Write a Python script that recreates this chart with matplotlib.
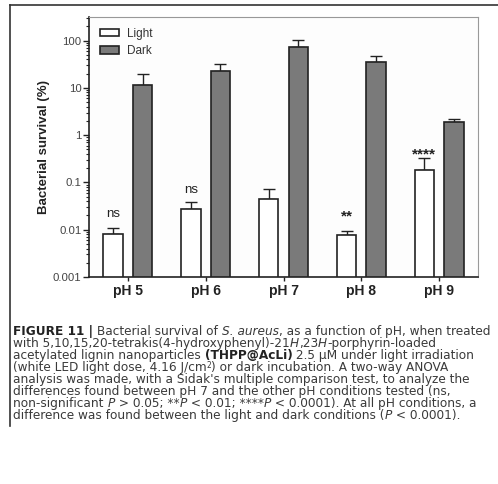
import numpy as np
import matplotlib
matplotlib.use("Agg")
import matplotlib.pyplot as plt
import matplotlib.ticker as mticker

plt.rcParams["font.family"] = ["Liberation Sans", "DejaVu Sans"]

groups = ["pH 5", "pH 6", "pH 7", "pH 8", "pH 9"]
light = [0.0081, 0.027, 0.044, 0.0078, 0.186]
light_err = [0.003, 0.011, 0.028, 0.0016, 0.14]
dark = [11.5, 23.2, 74, 35.4, 1.88]
dark_err = [8.0, 8.5, 29, 12.6, 0.37]
signif = ["ns", "ns", "", "**", "****"]
signif_y = [0.022, 0.070, None, 0.019, 0.40]

# caption lines as (text, style) pieces: "" normal, "b" bold, "i" italic, "sup" superscript
caption = [
    [("FIGURE 11 |", "b"), (" Bacterial survival of ", ""), ("S. aureus", "i"),
     (", as a function of pH, when treated", "")],
    [("with 5,10,15,20-tetrakis(4-hydroxyphenyl)-21", ""), ("H", "i"), (",23", ""), ("H", "i"),
     ("-porphyrin-loaded", "")],
    [("acetylated lignin nanoparticles ", ""), ("(THPP@AcLi)", "b"),
     (" 2.5 μM under light irradiation", "")],
    [("(white LED light dose, 4.16 J/cm", ""), ("2", "sup"), (") or dark incubation. A two-way ANOVA", "")],
    [("analysis was made, with a Sidak's multiple comparison test, to analyze the", "")],
    [("differences found between pH 7 and the other pH conditions tested (ns,", "")],
    [("non-significant ", ""), ("P", "i"), (" > 0.05; **", ""), ("P", "i"), (" < 0.01; ****", ""),
     ("P", "i"), (" < 0.0001). At all pH conditions, a", "")],
    [("difference was found between the light and dark conditions (", ""), ("P", "i"),
     (" < 0.0001).", "")],
]

fig = plt.figure(figsize=(4.98, 4.84), dpi=100)
W, H = 498, 484

# outer frame (top + left rule)
fig.add_artist(plt.Line2D([10 / W, 1.0], [1 - 5 / H, 1 - 5 / H], color="#333333", lw=1.2))
fig.add_artist(plt.Line2D([10 / W, 10 / W], [1 - 5 / H, 1 - 426 / H], color="#333333", lw=1.2))

ax = fig.add_axes([89 / W, 1 - 277 / H, 389 / W, 260 / H])
ax.set_facecolor("#fdfdfd")

x = np.arange(len(groups))
w = 0.25
off = 0.19
ax.bar(x - off, light, w, color="white", edgecolor="#222222", lw=1.2, label="Light", zorder=2)
ax.bar(x + off, dark, w, color="#7a7a7a", edgecolor="#222222", lw=1.2, label="Dark", zorder=2)
ax.errorbar(x - off, light, yerr=[np.zeros(len(light)), light_err], fmt="none",
            ecolor="#222222", elinewidth=1.0, capsize=4, capthick=1.0, zorder=1)
ax.errorbar(x + off, dark, yerr=[np.zeros(len(dark)), dark_err], fmt="none",
            ecolor="#222222", elinewidth=1.0, capsize=4, capthick=1.0, zorder=1)

for i, (s, yy) in enumerate(zip(signif, signif_y)):
    if s:
        fs = 9.5 if s == "ns" else 11
        ax.text(x[i] - off, yy, s, ha="center", va="center", fontsize=fs, color="#222222",
                fontweight="normal" if s == "ns" else "bold")

ax.set_yscale("log")
ax.set_ylim(0.001, 316)
ax.set_xlim(-0.5, 4.5)
ax.yaxis.set_major_locator(mticker.FixedLocator([0.001, 0.01, 0.1, 1, 10, 100]))
ax.set_yticklabels(["0.001", "0.01", "0.1", "1", "10", "100"])
ax.yaxis.set_minor_locator(mticker.LogLocator(base=10, subs=np.arange(2, 10), numticks=20))
ax.yaxis.set_minor_formatter(mticker.NullFormatter())
ax.tick_params(axis="y", which="major", length=4, width=1, labelsize=8.2, pad=1.5,
               color="#222222", labelcolor="#444444")
ax.tick_params(axis="y", which="minor", length=2, width=0.8, color="#222222")
ax.set_xticks(x)
ax.set_xticklabels(groups, fontsize=10, fontweight="bold", color="#222222")
ax.tick_params(axis="x", length=3, width=1, pad=2, color="#222222")

ax.set_ylabel("Bacterial survival (%)", fontsize=9.5, fontweight="bold", color="#222222", labelpad=2)

for sp in ["left", "bottom"]:
    ax.spines[sp].set_color("#222222")
    ax.spines[sp].set_linewidth(1.2)
for sp in ["top", "right"]:
    ax.spines[sp].set_color("#999999")
    ax.spines[sp].set_linewidth(0.8)

leg = ax.legend(loc="upper left", fontsize=8.5, frameon=False, handlelength=1.6, handleheight=0.6,
                borderaxespad=0.5, labelspacing=0.45, handletextpad=0.7, borderpad=0.4)
for t in leg.get_texts():
    t.set_color("#333333")

# caption, drawn piece by piece
renderer = fig.canvas.get_renderer()


def piece_kw(style):
    kw = dict(fontsize=8.7, color="#3a3a3a", family="DejaVu Sans")
    if style == "b":
        kw.update(fontweight="bold", color="#222222")
    elif style == "i":
        kw.update(fontstyle="italic")
    elif style == "sup":
        kw.update(fontsize=5.5)
    return kw


def piece_width(s, kw):
    t = fig.text(0, 0, "|" + s + "|", **kw)
    w1 = t.get_window_extent(renderer).width
    t.remove()
    t = fig.text(0, 0, "||", **kw)
    w2 = t.get_window_extent(renderer).width
    t.remove()
    return w1 - w2


for k, segs in enumerate(caption):
    xpx = 13
    base = H - (335 + 12 * k)
    for s, style in segs:
        kw = piece_kw(style)
        ypx = base + (3.5 if style == "sup" else 0)
        fig.text(xpx / W, ypx / H, s, ha="left", va="baseline", **kw)
        xpx += piece_width(s, kw)

plt.savefig("out.png", dpi=100)
